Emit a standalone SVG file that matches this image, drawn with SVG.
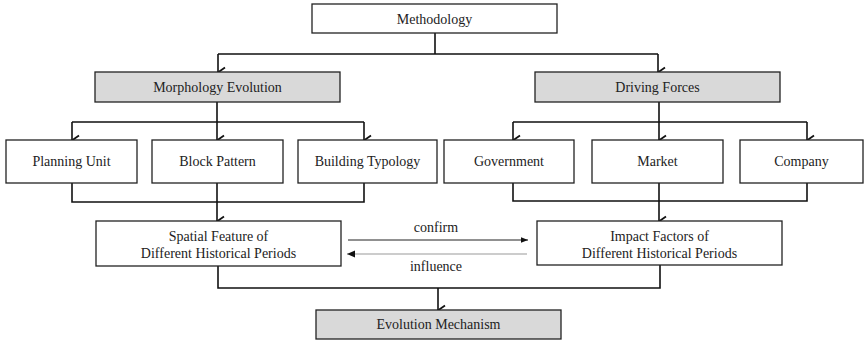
<svg xmlns="http://www.w3.org/2000/svg" width="867" height="342" viewBox="0 0 867 342">
<style>
.box{fill:#fff;stroke:#222;stroke-width:1.3}
.gray{fill:#d9d9d9;stroke:#222;stroke-width:1.3}
.t{font-family:"Liberation Serif","Times New Roman",serif;font-size:14px;fill:#222;text-anchor:middle}
.c{fill:none;stroke:#111;stroke-width:1.6}
.thin{fill:none;stroke:#222;stroke-width:1}
.thin2{fill:none;stroke:#999;stroke-width:1}
</style>
<defs>
<marker id="v" viewBox="0 0 12 12" refX="6" refY="11" markerWidth="12" markerHeight="12" markerUnits="userSpaceOnUse" orient="auto-start-reverse">
<path d="M1.5,4 L6,10.5 L10.5,4" fill="none" stroke="#111" stroke-width="1.8"/>
</marker>
<marker id="tri" viewBox="0 0 10 10" refX="10" refY="5" markerWidth="8" markerHeight="7" markerUnits="userSpaceOnUse" orient="auto">
<path d="M0,1 L10,5 L0,9 Z" fill="#111"/>
</marker>
</defs>
<g id="connectors">
<path class="c" d="M435,33 V54 M218,54 H658"/>
<path class="c" d="M218,54 V72" marker-end="url(#v)"/>
<path class="c" d="M658,54 V72" marker-end="url(#v)"/>
<path class="c" d="M217,102 V122 M72,122 H364"/>
<path class="c" d="M72,122 V140" marker-end="url(#v)"/>
<path class="c" d="M217,122 V140" marker-end="url(#v)"/>
<path class="c" d="M364,122 V140" marker-end="url(#v)"/>
<path class="c" d="M659,102 V122 M513,122 H807"/>
<path class="c" d="M513,122 V140" marker-end="url(#v)"/>
<path class="c" d="M659,122 V140" marker-end="url(#v)"/>
<path class="c" d="M807,122 V140" marker-end="url(#v)"/>
<path class="c" d="M72,183 V202 H364 V183"/>
<path class="c" d="M217,183 V221" marker-end="url(#v)"/>
<path class="c" d="M513,183 V201 H807 V183"/>
<path class="c" d="M659,183 V221" marker-end="url(#v)"/>
<path class="thin" d="M348,240 H528" marker-end="url(#tri)"/>
<path class="thin2" d="M527,254 H347"/>
<path d="M347,254 L355,250.5 L355,257.5 Z" fill="#111"/>
<path class="c" d="M218,266 V288 H660 V265"/>
<path class="c" d="M438,288 V310" marker-end="url(#v)"/>
<text class="t" x="436" y="232">confirm</text>
<text class="t" x="436" y="271">influence</text>
</g>
<g id="methodology"><rect class="box" x="312" y="4" width="245" height="29"/><text class="t" x="434.5" y="23.5">Methodology</text></g>
<g id="morphology"><rect class="gray" x="95" y="72" width="245" height="30"/><text class="t" x="217.5" y="92">Morphology Evolution</text></g>
<g id="driving"><rect class="gray" x="535" y="72" width="245" height="30"/><text class="t" x="657.5" y="92">Driving Forces</text></g>
<g id="planning"><rect class="box" x="6" y="140" width="131" height="43"/><text class="t" x="71.5" y="166">Planning Unit</text></g>
<g id="block"><rect class="box" x="152" y="140" width="131" height="43"/><text class="t" x="217.5" y="166">Block Pattern</text></g>
<g id="building"><rect class="box" x="298" y="140" width="139" height="43"/><text class="t" x="367.5" y="166">Building Typology</text></g>
<g id="government"><rect class="box" x="444" y="140" width="130" height="43"/><text class="t" x="509" y="166">Government</text></g>
<g id="market"><rect class="box" x="592" y="140" width="131" height="43"/><text class="t" x="657.5" y="166">Market</text></g>
<g id="company"><rect class="box" x="740" y="140" width="123" height="43"/><text class="t" x="801.5" y="166">Company</text></g>
<g id="spatial"><rect class="box" x="96" y="221" width="245" height="45"/><text class="t" x="218.5" y="241">Spatial Feature of</text><text class="t" x="218.5" y="258">Different Historical Periods</text></g>
<g id="impact"><rect class="box" x="537" y="221" width="245" height="44"/><text class="t" x="659.5" y="241">Impact Factors of</text><text class="t" x="659.5" y="258">Different Historical Periods</text></g>
<g id="evolution"><rect class="gray" x="316" y="310" width="245" height="29"/><text class="t" x="438.5" y="329">Evolution Mechanism</text></g>
</svg>
